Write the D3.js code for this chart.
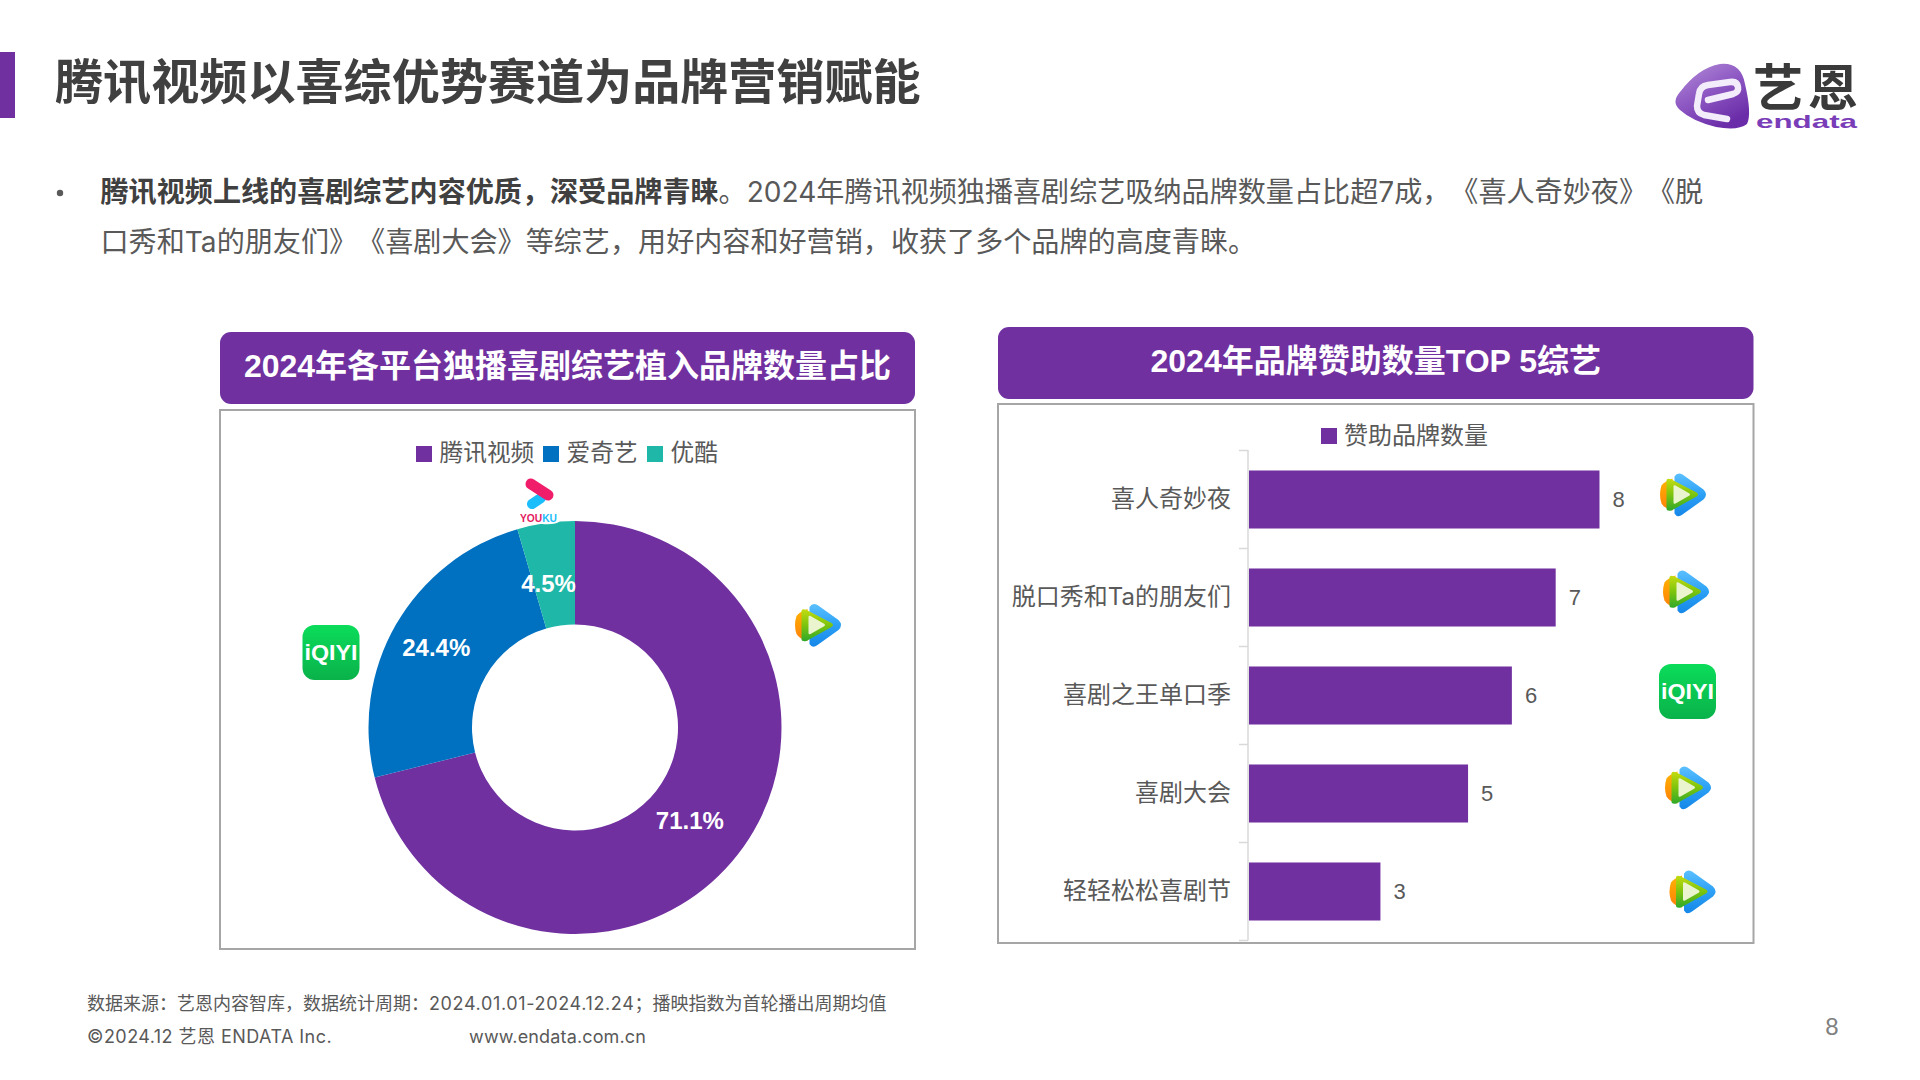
<!DOCTYPE html>
<html lang="zh">
<head>
<meta charset="utf-8">
<script src="https://cdnjs.cloudflare.com/ajax/libs/d3/7.8.5/d3.min.js"></script>
<style>
html,body{margin:0;padding:0;background:#fff;overflow:hidden}
svg{display:block}
text{font-family:"Liberation Sans","Noto Sans CJK SC",sans-serif;text-spacing-trim:space-all}
text.reg, .tick text{font-family:"Inter","Noto Sans CJK SC",sans-serif}
</style>
</head>
<body>
<svg id="c" width="1920" height="1080" viewBox="0 0 1920 1080"></svg>
<script>
const titleText = "腾讯视频以喜综优势赛道为品牌营销赋能";
const bodyBold = "腾讯视频上线的喜剧综艺内容优质，深受品牌青睐";
const bodyRest1 = "。2024年腾讯视频独播喜剧综艺吸纳品牌数量占比超7成，《喜人奇妙夜》《脱";
const bodyLine2 = "口秀和Ta的朋友们》《喜剧大会》等综艺，用好内容和好营销，收获了多个品牌的高度青睐。";
const donutTitle = "2024年各平台独播喜剧综艺植入品牌数量占比";
const barTitle = "2024年品牌赞助数量TOP 5综艺";
const platforms = ["腾讯视频", "爱奇艺", "优酷"];
const shares = [71.1, 24.4, 4.5];
const shareLabels = ["71.1%", "24.4%", "4.5%"];
const platformColors = ["#7030A0", "#0070C0", "#1FB8A8"];
const shows = ["喜人奇妙夜", "脱口秀和Ta的朋友们", "喜剧之王单口季", "喜剧大会", "轻轻松松喜剧节"];
const brandCounts = [8, 7, 6, 5, 3];
const barSeriesName = "赞助品牌数量";
const showPlatforms = ["tx", "tx", "iq", "tx", "tx"];
const footer1a = "数据来源：艺恩内容智库，数据统计周期：";
const footer1b = "2024.01.01-2024.12.24";
const footer1c = "；播映指数为首轮播出周期均值";
const footer2 = "©2024.12 艺恩 ENDATA Inc.";
const footer3 = "www.endata.com.cn";

const PURPLE = "#7030A0", GREY = "#595959", BORDER = "#A6A6A6";
const svg = d3.select("#c");
const defs = svg.append("defs");

function grad(id, stops, x2 = 0, y2 = 1) {
  const g = defs.append("linearGradient").attr("id", id).attr("x1", 0).attr("y1", 0).attr("x2", x2).attr("y2", y2);
  stops.forEach((c, i) => g.append("stop").attr("offset", i / (stops.length - 1)).attr("stop-color", c));
}
grad("gBlue", ["#5CC0FF", "#2BA0F5", "#1587E8"]);
grad("gGreen", ["#C4DC10", "#7CC40E", "#2FA82A"]);
grad("gOrange", ["#FFB400", "#FF7F0A"]);
grad("gIq", ["#0BDC5A", "#0AB24A"]);
grad("gLogo", ["#B48FD8", "#8F5AC4", "#6A2CA8"], 0.6, 1);

function tencent(cx, cy) {
  const g = svg.append("g").attr("transform", `translate(${cx - 23.5},${cy - 22})`);
  g.append("path").attr("fill", "url(#gBlue)").attr("d", "M15 4 Q18 -1 23 2 L44 17 Q49 22 44 27 L23 42 Q18 46 15 41 Z");
  g.append("path").attr("fill", "url(#gOrange)").attr("d", "M13 6 Q5 9 2 13 Q-1 22 2 31 Q5 36 13 38 Z");
  g.append("path").attr("fill", "url(#gGreen)").attr("d", "M7 8 Q7 5 12 7 L37 20 Q40 22 37 24 L12 38 Q7 39 7 36 Z");
  g.append("path").attr("fill", "#EAF5CF").attr("d", "M14 14 Q14 12 16 13 L30 21 Q31 22 30 23 L16 31 Q14 32 14 30 Z");
}
function iqiyi(x, y, w, h) {
  svg.append("rect").attr("x", x).attr("y", y).attr("width", w).attr("height", h).attr("rx", 12).attr("fill", "url(#gIq)");
  svg.append("text").attr("x", x + w / 2).attr("y", y + h / 2 + 7).attr("text-anchor", "middle")
    .attr("textLength", w - 4).attr("lengthAdjust", "spacingAndGlyphs")
    .attr("font-size", 22).attr("font-weight", 700).attr("fill", "#fff").text("iQIYI");
}
function youku(x, y) {
  const g = svg.append("g").attr("transform", `translate(${x},${y})`);
  g.append("path").attr("fill", "#FFFFFF").attr("d", "M-3 33 H40 V42 Q36 46 22 45 H2 Q-3 42 -3 33 Z");
  g.append("line").attr("x1", 21).attr("y1", 19).attr("x2", 12).attr("y2", 25).attr("stroke", "#1CBDFB").attr("stroke-width", 10).attr("stroke-linecap", "round");
  g.append("line").attr("x1", 11).attr("y1", 5).attr("x2", 28).attr("y2", 16).attr("stroke", "#F01D6A").attr("stroke-width", 11).attr("stroke-linecap", "round");
  const t = g.append("text").attr("x", 0).attr("y", 43).attr("font-size", 11).attr("font-weight", 700).attr("textLength", 37).attr("lengthAdjust", "spacingAndGlyphs");
  t.append("tspan").attr("fill", "#E5195F").text("YOU");
  t.append("tspan").attr("fill", "#1CBDFB").text("KU");
}

/* header */
svg.append("rect").attr("x", 0).attr("y", 52).attr("width", 15).attr("height", 66).attr("fill", PURPLE);
svg.append("text").attr("x", 55).attr("y", 99).attr("font-size", 48.1).attr("font-weight", 700).attr("fill", "#404040").text(titleText);

/* brand logo */
const lg = svg.append("g");
lg.append("path").attr("fill", "url(#gLogo)")
  .attr("d", "M1720 64 Q1741 62 1745 84 Q1752 114 1747 124 Q1738 131 1716 127 Q1692 121 1680 110 Q1671 102 1680 92 Q1698 68 1720 64 Z");
lg.append("path").attr("fill", "none").attr("stroke", "#F3ECFA").attr("stroke-width", 6.5).attr("stroke-linejoin", "round").attr("stroke-linecap", "round")
  .attr("d", "M1708 100 L1733 94 Q1739 92 1738 87 Q1737 81 1730 82 L1708 85 Q1700 86 1699 94 L1697 106 Q1697 113 1704 115 L1727 119");
lg.append("text").attr("x", 1753).attr("y", 106).attr("font-size", 50).attr("font-weight", 700).attr("fill", "#3A3A3A").attr("letter-spacing", 5).text("艺恩");
lg.append("text").attr("x", 1756).attr("y", 128).attr("font-size", 19).attr("font-weight", 700).attr("fill", "#7A3DB8")
  .attr("textLength", 101).attr("lengthAdjust", "spacingAndGlyphs").text("endata");

/* body */
svg.append("circle").attr("cx", 60).attr("cy", 193).attr("r", 3.2).attr("fill", GREY);
const l1 = svg.append("text").attr("x", 100.5).attr("y", 202).attr("font-size", 28.1).attr("fill", GREY);
l1.append("tspan").attr("font-weight", 700).attr("fill", "#404040").text(bodyBold);
l1.append("tspan").attr("font-family", '"Inter","Noto Sans CJK SC",sans-serif').text(bodyRest1);
svg.append("text").attr("class", "reg").attr("x", 100.5).attr("y", 252).attr("font-size", 28.1).attr("fill", GREY).text(bodyLine2);

/* panels */
function panel(hx, hy, hw, hh, by, bb, title) {
  svg.append("rect").attr("x", hx).attr("y", by).attr("width", hw).attr("height", bb - by).attr("fill", "#fff").attr("stroke", BORDER).attr("stroke-width", 2);
  svg.append("rect").attr("x", hx).attr("y", hy).attr("width", hw).attr("height", hh).attr("rx", 11).attr("fill", PURPLE);
  svg.append("text").attr("x", hx + hw / 2).attr("y", hy + hh / 2 + 9).attr("text-anchor", "middle").attr("font-size", 32).attr("font-weight", 700).attr("fill", "#fff").text(title);
}
panel(220, 332, 695, 72, 410, 949, donutTitle);
panel(998, 327, 755.5, 72, 404, 943, barTitle);

/* donut legend */
const legendX = [416, 543, 647];
const leg = svg.append("g").selectAll("g").data(platforms).join("g").attr("transform", (d, i) => `translate(${legendX[i]},445)`);
leg.append("rect").attr("y", 1).attr("width", 16).attr("height", 16).attr("fill", (d, i) => platformColors[i]);
leg.append("text").attr("x", 23.5).attr("y", 16).attr("font-size", 23.7).attr("fill", GREY).text(d => d);

/* donut */
const cx = 575, cy = 727.5, R = 206.5, r = 103;
const pie = d3.pie().sort(null).value(d => d);
const arc = d3.arc().innerRadius(r).outerRadius(R);
const arcs = pie(shares);
const dg = svg.append("g").attr("transform", `translate(${cx},${cy})`);
dg.selectAll("path").data(arcs).join("path").attr("d", arc).attr("fill", (d, i) => platformColors[i]);
dg.selectAll("text").data(arcs).join("text")
  .attr("transform", (d, i) => {
    const mid = (d.startAngle + d.endAngle) / 2;
    const rad = [147, 160, 145][i];
    const offX = [-1, 0, -6][i];
    const offY = [3, 0, 0][i];
    return `translate(${Math.sin(mid) * rad + offX},${-Math.cos(mid) * rad + offY})`;
  })
  .attr("text-anchor", "middle").attr("dy", "0.35em").attr("font-size", 24).attr("font-weight", 700).attr("fill", "#fff")
  .text((d, i) => shareLabels[i]);

/* platform logos around donut */
tencent(818, 625);
iqiyi(302.5, 625, 57, 55);
youku(520, 479);

/* bar legend */
svg.append("rect").attr("x", 1321).attr("y", 428).attr("width", 16).attr("height", 16).attr("fill", PURPLE);
svg.append("text").attr("x", 1344).attr("y", 444).attr("font-size", 24).attr("fill", GREY).text(barSeriesName);

/* bars */
const x0 = 1249;
const xS = d3.scaleLinear().domain([0, 8]).range([x0, 1599.5]);
const yS = d3.scaleBand().domain(shows).range([450.5, 940.5]).paddingInner(0.408).paddingOuter(0.204);
const half = (yS.step() - yS.bandwidth()) / 2;
const axisG = svg.append("g").attr("transform", `translate(1248,0)`).call(d3.axisLeft(yS).tickSize(0).tickPadding(17));
axisG.select(".domain").remove();
axisG.selectAll("text").attr("font-size", 24).attr("fill", GREY).attr("font-family", null);
const axisLine = svg.append("g").attr("stroke", "#D9D9D9").attr("stroke-width", 1.5);
axisLine.append("line").attr("x1", 1248).attr("x2", 1248).attr("y1", 450).attr("y2", 940.5);
axisLine.selectAll("line.t").data([...shows.map(s => yS(s) - half), 940.5]).join("line").attr("class", "t")
  .attr("x1", 1239).attr("x2", 1248).attr("y1", d => d).attr("y2", d => d);
svg.append("g").selectAll("rect").data(shows).join("rect")
  .attr("x", x0).attr("y", d => yS(d)).attr("height", yS.bandwidth())
  .attr("width", (d, i) => xS(brandCounts[i]) - x0).attr("fill", PURPLE);
svg.append("g").selectAll("text").data(shows).join("text")
  .attr("x", (d, i) => xS(brandCounts[i]) + 13).attr("y", d => yS(d) + yS.bandwidth() / 2 + 7.5)
  .attr("font-size", 22).attr("fill", GREY).text((d, i) => brandCounts[i]);

/* row logos */
const logoCx = [1683, 1686, 1688, 1688, 1692.5];
const logoOff = [-5, -6, 0, -6, 0];
shows.forEach((s, i) => {
  const c = yS(s) + yS.bandwidth() / 2;
  if (showPlatforms[i] === "tx") tencent(logoCx[i], c + logoOff[i]);
  else iqiyi(1659, 664, 57, 55);
});

/* footer */
const f1 = svg.append("text").attr("class", "reg").attr("x", 87).attr("y", 1009.5).attr("font-size", 18).attr("fill", GREY);
f1.append("tspan").text(footer1a);
f1.append("tspan").attr("letter-spacing", 0.64).text(footer1b);
f1.append("tspan").text(footer1c);
svg.append("text").attr("class", "reg").attr("x", 87).attr("y", 1042.5).attr("font-size", 18).attr("letter-spacing", 0.45).attr("fill", GREY).text(footer2);
svg.append("text").attr("class", "reg").attr("x", 469).attr("y", 1042.5).attr("font-size", 18).attr("letter-spacing", 0.15).attr("fill", GREY).text(footer3);
svg.append("text").attr("x", 1832).attr("y", 1035).attr("text-anchor", "middle").attr("font-size", 24).attr("fill", "#808080").text("8");
</script>
</body>
</html>
